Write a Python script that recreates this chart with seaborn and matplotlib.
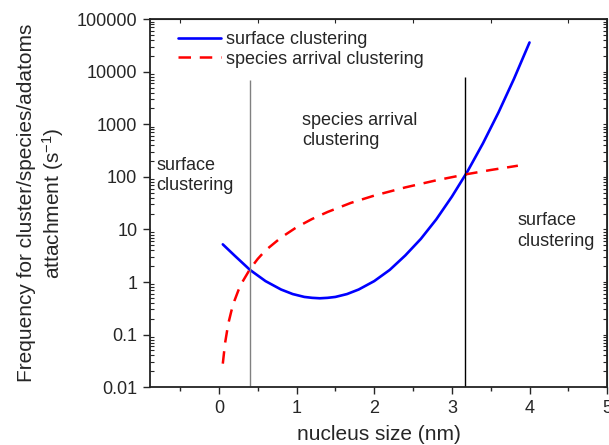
import seaborn as sns
import matplotlib.pyplot as plt

"""
Data read off the reference
"""
surface_x = [0.05, 0.2, 0.4, 0.6, 0.8, 0.95, 1.1, 1.2, 1.3, 1.4, 1.5, 1.65, 1.8,
             2.0, 2.2, 2.4, 2.6, 2.8, 3.0, 3.2, 3.4, 3.6, 3.8, 4.0]
surface_y = [5.2, 3.2, 1.7, 1.04, 0.72, 0.59, 0.52, 0.50, 0.49, 0.50, 0.52, 0.59, 0.72,
             1.04, 1.7, 3.2, 6.6, 15.6, 42, 126, 433, 1675, 7330, 36000]

arrival_x = [0.05, 0.08, 0.12, 0.16, 0.2, 0.25, 0.3, 0.4, 0.5, 0.6, 0.8, 1.0,
             1.2, 1.4, 1.7, 2.0, 2.4, 2.8, 3.2, 3.5, 3.85]
arrival_y = [0.028, 0.07, 0.16, 0.28, 0.44, 0.69, 0.99, 1.76, 2.75, 4.0, 7.0, 11,
             15.8, 21.5, 32, 44, 63, 86, 113, 135, 163]

divider_x = [0.4, 3.17]
divider_bottom = [0.0107, 0.01]
divider_top = [7000, 7900]
divider_colors = ["#808080", "black"]

x_ticks = [0, 1, 2, 3, 4, 5]
x_minor = [-0.5, 0.5, 1.5, 2.5, 3.5, 4.5]
y_ticks = [0.01, 0.1, 1, 10, 100, 1000, 10000, 100000]
y_labels = ["0.01", "0.1", "1", "10", "100", "1000", "10000", "100000"]

"""
Style
"""
sns.set_style("ticks")
plt.rcParams["font.family"] = ["Liberation Sans", "DejaVu Sans"]
plt.rcParams["mathtext.fontset"] = "custom"
plt.rcParams["mathtext.rm"] = "Liberation Sans"
plt.rcParams["mathtext.it"] = "Liberation Sans"

fig, ax = plt.subplots(figsize=(6.09, 4.45), dpi=100)
fig.subplots_adjust(left=0.246, right=0.997, bottom=0.130, top=0.957)

"""
Curves
"""
sns.lineplot(x=surface_x, y=surface_y, ax=ax, color="#0000ff", lw=1.9,
             sort=False, label="surface clustering")
sns.lineplot(x=arrival_x, y=arrival_y, ax=ax, color="#ff0000", lw=1.8,
             linestyle=(0, (5, 3.5)), sort=False,
             label="species arrival clustering")

ax.set_yscale("log")
ax.vlines(divider_x, divider_bottom, divider_top, colors=divider_colors, lw=1.0)

ax.set_xlim(-0.89, 5.0)
ax.set_ylim(0.01, 100000)
ax.set_xticks(x_ticks)
ax.set_xticks(x_minor, minor=True)
ax.set_yticks(y_ticks, labels=y_labels)

ax.tick_params(which="major", direction="out", length=5, width=1, labelsize=13, pad=4)
ax.tick_params(axis="y", which="minor", direction="in", length=3, width=0.8)
ax.tick_params(axis="x", which="minor", direction="out", length=3, width=1)
for s in ax.spines.values():
    s.set_linewidth(1.3)
    s.set_color("#222222")

# inward ticks on top and right
top = ax.secondary_xaxis("top")
top.set_xticks(x_minor, labels=[])
top.tick_params(direction="in", length=3, width=0.8)
right = ax.secondary_yaxis("right")
right.set_yticks(y_ticks, labels=[])
right.tick_params(which="both", direction="in", length=3, width=0.8)

"""
Labels
"""
ax.set_xlabel("nucleus size (nm)", fontsize=15, labelpad=6)
ax.set_ylabel("Frequency for cluster/species/adatoms\nattachment (s$^{\\mathrm{-1}}$)",
              fontsize=15, multialignment="center")
ax.yaxis.set_label_coords(-0.184, 0.5)

text_kw = dict(transform=ax.transAxes, fontsize=13, va="top", ha="left",
               linespacing=1.25)
ax.text(0.015, 0.625, "surface\nclustering", **text_kw)
ax.text(0.333, 0.747, "species arrival\nclustering", **text_kw)
ax.text(0.803, 0.475, "surface\nclustering", **text_kw)

ax.legend(loc="upper left", bbox_to_anchor=(0.036, 1.0), frameon=False,
          fontsize=13, handlelength=2.4, handletextpad=0.25, labelspacing=0.15,
          borderaxespad=0.25)

plt.savefig("out.png", dpi=100)
